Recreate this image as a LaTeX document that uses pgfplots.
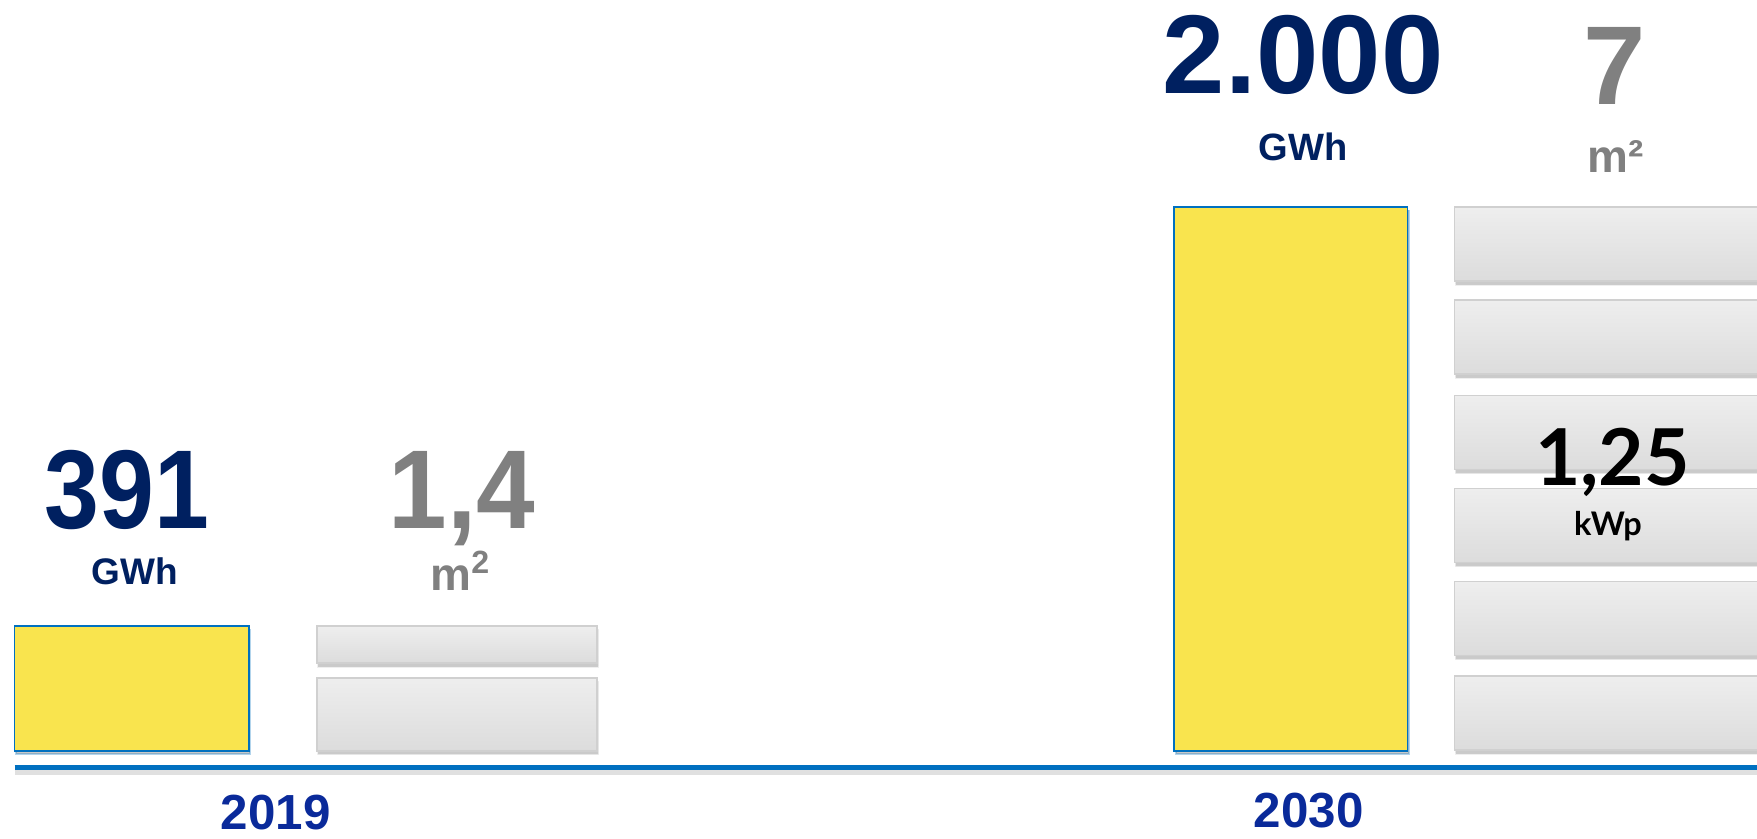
\documentclass[border=0pt]{standalone}
\usepackage{fontspec}
\setmainfont{Liberation Sans}
\newfontfamily\latofont{Lato}
\usepackage{pgfplots}
\pgfplotsset{compat=1.18}
\usetikzlibrary{shadows}
\definecolor{navy}{HTML}{002060}
\definecolor{yeartxt}{HTML}{0A2A9A}
\definecolor{linblue}{HTML}{0070C0}
\definecolor{byellow}{HTML}{F9E44E}
\definecolor{gtxt}{HTML}{808080}
\definecolor{gboxA}{HTML}{EEEEEE}
\definecolor{gboxB}{HTML}{DCDCDC}
\definecolor{gedge}{HTML}{D0D0D0}
\tikzset{
  graybox/.style={draw=gedge, line width=0.7pt, top color=gboxA, bottom color=gboxB,
    drop shadow={shadow xshift=0.5pt, shadow yshift=-1.6pt, opacity=0.35, fill=black!70}},
  ybox/.style={draw=linblue, line width=0.8pt, fill=byellow,
    drop shadow={shadow xshift=0.6pt, shadow yshift=-1.4pt, opacity=0.3, fill=black!70}},
}
\newcommand{\gbox}[4]{\addplot[graybox] coordinates {(#1,#3) (#2,#3) (#2,#4) (#1,#4)} -- cycle;}
\newcommand{\ybar}[4]{\addplot[ybox] coordinates {(#1,#3) (#2,#3) (#2,#4) (#1,#4)} -- cycle;}
\begin{document}
\begin{tikzpicture}
\begin{axis}[
  scale only axis, width=784pt, height=374pt,
  xmin=0, xmax=1568, ymin=-422.6, ymax=2796,
  axis line style={draw=none}, xtick=\empty, ytick=\empty,
  clip=true,
]
% yellow bars: energy (GWh), value = bar top
\ybar{13}{222}{-87}{391}
\ybar{1048}{1256}{-87}{2000}
% gray panels (m^2)
\gbox{283}{533}{249}{391}
\gbox{283}{533}{-87}{193}
\gbox{1298}{1600}{1716}{2000}
\gbox{1298}{1600}{1359}{1643}
\gbox{1298}{1600}{993}{1277}
\gbox{1298}{1600}{636}{920}
\gbox{1298}{1600}{279}{563}
\gbox{1298}{1600}{-85}{201}
% baseline
\addplot[linblue, line width=2.2pt,
  preaction={draw=black!40, opacity=0.3, line width=2.6pt, transform canvas={yshift=-2.2pt}}]
  coordinates {(13,-151.5) (1580,-151.5)};
% labels
\node[anchor=base, xscale=0.88, text=navy, font=\bfseries\fontsize{50}{50}\selectfont] at (axis cs:113.5,767) {391};
\node[anchor=base, text=navy, font=\bfseries\fontsize{16.5}{16.5}\selectfont] at (axis cs:120,550) {GWh};
\node[anchor=base, xscale=0.94, text=gtxt, font=\bfseries\fontsize{50}{50}\selectfont] at (axis cs:412,767) {1,4};
\node[anchor=base, text=gtxt, font=\bfseries\fontsize{20.5}{20.5}\selectfont] at (axis cs:411,528) {m\textsuperscript{2}};
\node[anchor=base, text=yeartxt, font=\bfseries\fontsize{22}{22}\selectfont] at (axis cs:246,-388) {2019};
\node[anchor=base, text=yeartxt, font=\bfseries\fontsize{22}{22}\selectfont] at (axis cs:1168,-380) {2030};
\node[anchor=base, text=navy, font=\bfseries\fontsize{50}{50}\selectfont] at (axis cs:1163,2437) {2.000};
\node[anchor=base, text=navy, font=\bfseries\fontsize{17}{17}\selectfont] at (axis cs:1163,2181) {GWh};
\node[anchor=base, text=gtxt, font=\bfseries\fontsize{50}{50}\selectfont] at (axis cs:1441,2393) {7};
\node[anchor=base, text=gtxt, font=\bfseries\fontsize{20.5}{20.5}\selectfont] at (axis cs:1442,2133) {m²};
\node[anchor=base, text=black, font=\latofont\bfseries\fontsize{35}{35}\selectfont] at (axis cs:1439,930) {1,25};
\node[anchor=base, text=black, font=\latofont\bfseries\fontsize{14.5}{14.5}\selectfont] at (axis cs:1435,741) {kWp};
\end{axis}
\end{tikzpicture}
\end{document}
